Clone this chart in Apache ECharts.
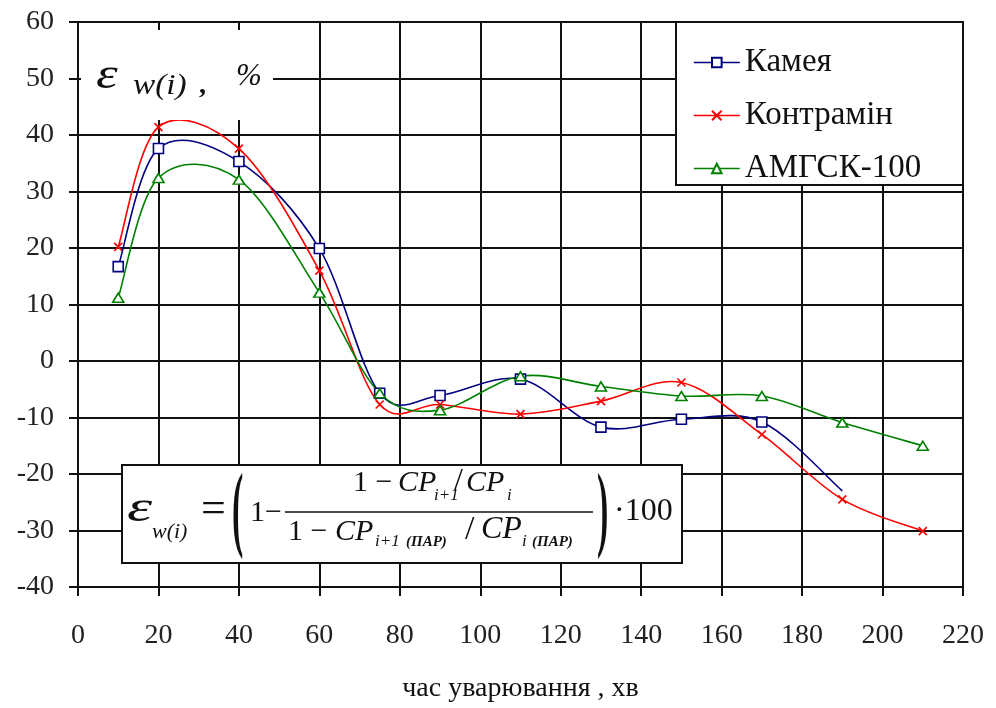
<!DOCTYPE html>
<html>
<head>
<meta charset="utf-8">
<script src="https://cdn.jsdelivr.net/npm/echarts@6/dist/echarts.min.js"></script>
<style>
  html, body { margin: 0; padding: 0; background: #fff; }
  #chart { width: 996px; height: 708px; }
</style>
</head>
<body>
<div id="chart"></div>
<script>
const SERIF = '"Liberation Serif", "Times New Roman", serif';

// час уварювання, хв
const times = [10, 20, 40, 60, 75, 90, 110, 130, 150, 170, 190, 210];
const kameya = [16.7, 37.6, 35.3, 19.9, -5.7, -6.1, -3.2, -11.7, -10.3, -10.8, -23, null];
const kontramin = [20.2, 41.4, 37.6, 16.0, -7.7, -7.7, -9.4, -7.1, -3.8, -13, -24.5, -30.1];
const amgsk = [11.2, 32.4, 32.1, 12.1, -5.7, -8.7, -2.7, -4.5, -6.2, -6.2, -10.9, -15];
const seriesNames = ['Камея', 'Контрамін', 'АМГСК-100'];
const colors = ['#000080', '#ff0000', '#008000'];

const xTicks = { min: 0, max: 220, step: 20 };
const yTicks = { min: -40, max: 60, step: 10 };

function pairs(values) {
  const out = [];
  values.forEach((v, i) => {
    if (v != null) out.push([times[i], v]);
  });
  return out;
}

// excel-like smoothed line: one catmull-rom segment per point
function curveSeries(name, values, color) {
  return {
    name: name + ' (крива)', type: 'custom', z: 2, silent: true,
    data: pairs(values),
    renderItem: function(params, api) {
      const i = params.dataIndexInside;
      const n = params.dataInsideLength;
      if (i >= n - 1) return null;
      const pt = k => {
        k = Math.max(0, Math.min(n - 1, k));
        return api.coord([api.value(0, k), api.value(1, k)]);
      };
      const p0 = pt(i - 1), p1 = pt(i), p2 = pt(i + 1), p3 = pt(i + 2);
      return {
        type: 'bezierCurve',
        shape: {
          x1: p1[0], y1: p1[1],
          cpx1: p1[0] + (p2[0] - p0[0]) / 6, cpy1: p1[1] + (p2[1] - p0[1]) / 6,
          cpx2: p2[0] - (p3[0] - p1[0]) / 6, cpy2: p2[1] - (p3[1] - p1[1]) / 6,
          x2: p2[0], y2: p2[1]
        },
        style: { stroke: color, lineWidth: 1.6, fill: null }
      };
    }
  };
}

function markerSeries(name, values, color, symbol, size, hideLast) {
  const data = pairs(values).map(p => ({ value: p }));
  if (hideLast) data[data.length - 1].symbol = 'none';
  return {
    name: name, type: 'line', z: 4,
    data: data,
    symbol: symbol, symbolSize: size,
    lineStyle: { color: color, width: 1.6, opacity: 0 },
    itemStyle: { color: '#fff', borderColor: color, borderWidth: 1.6 }
  };
}

const chart = echarts.init(document.getElementById('chart'), null, { renderer: 'canvas' });

function txt(x, y, text, font, extra) {
  return Object.assign({
    type: 'text', x: x, y: y, z: 12,
    style: { text: text, font: font, fill: '#111', verticalAlign: 'middle' }
  }, extra || {});
}

const gridLine = { lineStyle: { color: '#111', width: 2 } };

const option = {
  backgroundColor: '#fff',
  animation: false,
  grid: { left: 78, right: 33, top: 22, bottom: 120 },
  xAxis: {
    type: 'value',
    min: xTicks.min, max: xTicks.max, interval: xTicks.step,
    name: 'час уварювання , хв',
    nameLocation: 'middle',
    nameGap: 88,
    nameTextStyle: { fontFamily: SERIF, fontSize: 28, color: '#111' },
    axisLine: { show: true, onZero: false, lineStyle: { color: '#111', width: 2 } },
    axisTick: { show: true, length: 9, lineStyle: { color: '#111', width: 2 } },
    axisLabel: { fontFamily: SERIF, fontSize: 28, color: '#222', margin: 35 },
    splitLine: Object.assign({ show: true }, gridLine)
  },
  yAxis: {
    type: 'value',
    min: yTicks.min, max: yTicks.max, interval: yTicks.step,
    axisLine: { show: true, onZero: false, lineStyle: { color: '#111', width: 2 } },
    axisTick: { show: true, length: 9, lineStyle: { color: '#111', width: 2 } },
    axisLabel: { fontFamily: SERIF, fontSize: 28, color: '#222', margin: 24 },
    splitLine: Object.assign({ show: true }, gridLine)
  },
  legend: {
    orient: 'vertical',
    left: 688, top: 41,
    itemWidth: 46, itemHeight: 12,
    itemGap: 20,
    z: 20,
    lineStyle: { width: 1.6, opacity: 1 },
    textStyle: { fontFamily: SERIF, fontSize: 33, color: '#111' },
    data: seriesNames
  },
  series: [
    curveSeries(seriesNames[0], kameya, colors[0]),
    curveSeries(seriesNames[1], kontramin, colors[1]),
    curveSeries(seriesNames[2], amgsk, colors[2]),
    markerSeries(seriesNames[0], kameya, colors[0], 'rect', 10, true),
    markerSeries(seriesNames[1], kontramin, colors[1], 'path://M0,0L10,10M10,0L0,10', 8, false),
    markerSeries(seriesNames[2], amgsk, colors[2], 'triangle', [11, 9], false)
  ],
  graphic: [
    // legend frame
    { type: 'rect', z: 10, shape: { x: 676, y: 22, width: 287, height: 163 },
      style: { fill: '#fff', stroke: '#111', lineWidth: 2 } },
    // y title
    { type: 'rect', z: 10, shape: { x: 81, y: 30, width: 192, height: 90 },
      style: { fill: '#fff' } },
    txt(96, 76, 'ε', 'italic 44px ' + SERIF, { scaleX: 1.25 }),
    txt(133, 86, 'w(i)', 'italic 29px ' + SERIF, { scaleX: 1.15 }),
    txt(199, 86, ',', 'bold 28px ' + SERIF),
    txt(236, 77, '%', 'italic 31px ' + SERIF),
    // formula box
    { type: 'rect', z: 10, shape: { x: 122, y: 465, width: 560, height: 98 },
      style: { fill: '#fff', stroke: '#111', lineWidth: 2 } },
    txt(127, 509, 'ε', 'italic 44px ' + SERIF, { scaleX: 1.45 }),
    txt(152, 532, 'w(i)', 'italic 22px ' + SERIF),
    txt(201, 510, '=', '44px ' + SERIF),
    txt(232, 514, '(', 'bold 34px ' + SERIF, { scaleY: 2.8 }),
    txt(250, 513, '1−', '30px ' + SERIF),
    { type: 'line', z: 12, shape: { x1: 285, y1: 512, x2: 593, y2: 512 },
      style: { stroke: '#111', lineWidth: 1.5 } },
    // numerator
    txt(353, 483, '1 − ', '30px ' + SERIF),
    txt(398, 483, 'CP', 'italic 30px ' + SERIF),
    txt(434, 496, 'i+1', 'italic 17px ' + SERIF),
    txt(454, 482, '/', '32px ' + SERIF),
    txt(466, 483, 'CP', 'italic 30px ' + SERIF),
    txt(507, 496, 'i', 'italic 17px ' + SERIF),
    // denominator
    txt(288, 532, '1 − ', '30px ' + SERIF),
    txt(335, 532, 'CP', 'italic 30px ' + SERIF),
    txt(375, 542, 'i+1', 'italic 17px ' + SERIF),
    txt(406, 542, '(ПАР)', 'bold italic 15px ' + SERIF),
    txt(465, 530, '/', '34px ' + SERIF),
    txt(481, 530, 'CP', 'italic 32px ' + SERIF),
    txt(522, 542, 'i', 'italic 17px ' + SERIF),
    txt(532, 542, '(ПАР)', 'bold italic 15px ' + SERIF),
    txt(597, 514, ')', 'bold 34px ' + SERIF, { scaleY: 2.8 }),
    txt(614, 512, '·100', '32px ' + SERIF)
  ]
};

chart.setOption(option);
</script>
</body>
</html>
